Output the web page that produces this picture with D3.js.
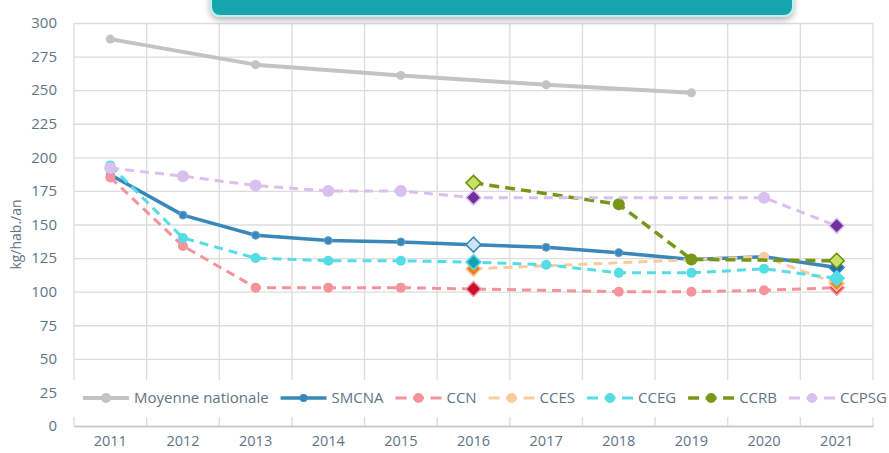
<!DOCTYPE html>
<html>
<head>
<meta charset="utf-8">
<script src="https://cdn.jsdelivr.net/npm/d3@7"></script>
<style>
  body { margin: 0; background: #fff; }
  svg { display: block; font-family: "Open Sans", sans-serif; }
</style>
</head>
<body>
<svg id="chart" width="889" height="453"></svg>
<script>
const years = ["2011", "2012", "2013", "2014", "2015", "2016", "2017", "2018", "2019", "2020", "2021"];
const yTicks = [0, 25, 50, 75, 100, 125, 150, 175, 200, 225, 250, 275, 300];

// null = no point in that year (line joins the neighbours)
const moyenne = [288, null, 269, null, 261, null, 254, null, 248, null, null];
const smcna   = [187, 157, 142, 138, 137, 135, 133, 129, 124, 126, 118];
const ccn     = [185, 134, 103, 103, 103, 102, null, 100, 100, 101, 103];
const cces    = [null, null, null, null, null, 117, null, null, null, 126, 106];
const cceg    = [194, 140, 125, 123, 123, 122, 120, 114, 114, 117, 110];
const ccrb    = [null, null, null, null, null, 181, null, 165, 124, null, 123];
const ccpsg   = [192, 186, 179, 175, 175, 170, null, null, null, 170, 149];

const series = [
  { name: "Moyenne nationale", values: moyenne, color: "#c3c3c3", width: 4, dash: null, r: 4.5, diamonds: {} },
  { name: "SMCNA", values: smcna, color: "#3a88ba", width: 3.5, dash: null, r: 4, markFill: "#3a88ba",
    diamonds: { "2016": ["#cfe4f1", "#3a88ba"], "2021": ["#1f6db0", "#3a88ba"] } },
  { name: "CCN", values: ccn, color: "#f4939b", width: 3, dash: "9,6", r: 5,
    diamonds: { "2016": ["#c8102e", "#f4939b"], "2021": ["#e0303a", "#f4939b"] } },
  { name: "CCES", values: cces, color: "#f9cca0", width: 3, dash: "9,6", r: 5,
    diamonds: { "2016": ["#f07e1c", "#f9cca0"], "2021": ["#f08a2a", "#f9cca0"] } },
  { name: "CCEG", values: cceg, color: "#55dde6", width: 3, dash: "9,6", r: 5,
    diamonds: { "2016": ["#16a3ad", "#55dde6"], "2021": ["#55dde6", "#55dde6"] } },
  { name: "CCRB", values: ccrb, color: "#789719", width: 3.5, dash: "10,6", r: 6,
    diamonds: { "2016": ["#c9e262", "#6e8c14"], "2021": ["#c9e262", "#6e8c14"] } },
  { name: "CCPSG", values: ccpsg, color: "#dac0ee", width: 3, dash: "9,6", r: 6,
    diamonds: { "2016": ["#7030a0", "#dac0ee"], "2021": ["#7030a0", "#dac0ee"] } }
];

const svg = d3.select("#chart");
const margin = { left: 74, right: 16, top: 23, bottom: 27 };
const W = 889, H = 453;

const x = d3.scaleBand().domain(years).range([margin.left, W - margin.right]);
const y = d3.scaleLinear().domain([0, 300]).range([H - margin.bottom, margin.top]);

const textColor = "#5f7487";
const gridColor = "#dcdcdc";

// horizontal grid + labels
const yAxis = svg.append("g")
  .attr("transform", `translate(${margin.left},0)`)
  .call(d3.axisLeft(y).tickValues(yTicks).tickSize(-(W - margin.left - margin.right)).tickPadding(17));
yAxis.select(".domain").remove();
yAxis.selectAll(".tick line").attr("stroke", gridColor).attr("stroke-width", 1.3);
yAxis.selectAll(".tick text").attr("fill", textColor).attr("font-size", 15).attr("font-family", "Open Sans");

// vertical grid at band edges
const edges = years.map(d => x(d)).concat([x.range()[1]]);
svg.append("g").selectAll("line").data(edges).join("line")
  .attr("x1", d => d).attr("x2", d => d)
  .attr("y1", y(300)).attr("y2", y(0))
  .attr("stroke", gridColor).attr("stroke-width", 1.3);

// x labels
const xAxis = svg.append("g")
  .attr("transform", `translate(0,${y(0)})`)
  .call(d3.axisBottom(x).tickSize(0).tickPadding(10));
xAxis.select(".domain").attr("stroke", "#c6c6c6").attr("stroke-width", 1.5);
xAxis.selectAll(".tick text").attr("fill", textColor).attr("font-size", 14.5).attr("font-family", "Open Sans");

// y title
svg.append("text")
  .attr("transform", `translate(21,${(y(0) + y(300)) / 2 + 10}) rotate(-90)`)
  .attr("text-anchor", "middle")
  .attr("fill", textColor)
  .attr("font-size", 14)
  .text("kg/hab./an");

// lines
const line = d3.line()
  .x(d => x(d.year) + x.bandwidth() / 2)
  .y(d => y(d.value));

const diamond = (cx, cy, s) => `M${cx},${cy - s}L${cx + s},${cy}L${cx},${cy + s}L${cx - s},${cy}Z`;

series.forEach(s => {
  const pts = years.map((yr, i) => ({ year: yr, value: s.values[i] })).filter(d => d.value != null);
  const g = svg.append("g");
  g.append("path")
    .datum(pts)
    .attr("d", line)
    .attr("fill", "none")
    .attr("stroke", s.color)
    .attr("stroke-width", s.width)
    .attr("stroke-dasharray", s.dash)
    .attr("stroke-linejoin", "round");
  g.selectAll("circle").data(pts.filter(d => !s.diamonds[d.year])).join("circle")
    .attr("cx", d => x(d.year) + x.bandwidth() / 2)
    .attr("cy", d => y(d.value))
    .attr("r", s.r)
    .attr("fill", s.markFill || s.color)
    .attr("stroke", s.name === "SMCNA" ? "#6aa7d0" : "none")
    .attr("stroke-width", 1);
  s.pts = pts;
});

// diamonds on top
series.forEach(s => {
  svg.append("g").selectAll("path").data(s.pts.filter(d => s.diamonds[d.year])).join("path")
    .attr("d", d => diamond(x(d.year) + x.bandwidth() / 2, y(d.value), 7.5))
    .attr("fill", d => s.diamonds[d.year][0])
    .attr("stroke", d => s.diamonds[d.year][1])
    .attr("stroke-width", 1.5);
});

// legend
const legY = 398;
const legend = svg.append("g");
legend.append("rect")
  .attr("x", margin.left - 2).attr("y", 380)
  .attr("width", W - margin.left).attr("height", 37)
  .attr("fill", "#fff");

const symW = 46, symGap = 5;
const items = legend.selectAll("g.item").data(series).join("g").attr("class", "item");
items.append("text")
  .attr("x", symW + symGap)
  .attr("y", legY)
  .attr("dy", "0.35em")
  .attr("fill", textColor)
  .attr("font-size", 15)
  .text(d => d.name);
const widths = items.select("text").nodes().map(n => n.getComputedTextLength());
const legStart = 83, legEnd = 887;
const used = d3.sum(widths) + series.length * (symW + symGap);
const gap = (legEnd - legStart - used) / (series.length - 1);
let cursor = legStart;
items.each(function (d, i) {
  d3.select(this).attr("transform", `translate(${cursor},0)`);
  cursor += symW + symGap + widths[i] + gap;
});
items.append("line")
  .attr("x1", 0).attr("x2", symW)
  .attr("y1", legY).attr("y2", legY)
  .attr("stroke", d => d.color)
  .attr("stroke-width", d => d.width)
  .attr("stroke-dasharray", d => d.dash ? "11,6.5" : null);
items.append("circle")
  .attr("cx", symW / 2).attr("cy", legY)
  .attr("r", d => d.name === "SMCNA" ? 4 : 5)
  .attr("fill", d => d.markFill || d.color);

// title box (mostly above the frame)
const defs = svg.append("defs");
const f = defs.append("filter").attr("id", "shadow").attr("x", "-10%").attr("y", "-50%").attr("width", "120%").attr("height", "250%");
f.append("feDropShadow").attr("dx", 0).attr("dy", 3).attr("stdDeviation", 3).attr("flood-color", "#000").attr("flood-opacity", 0.3);
svg.append("rect")
  .attr("x", 211).attr("y", -20)
  .attr("width", 582).attr("height", 36)
  .attr("rx", 9)
  .attr("fill", "#16a5ad")
  .attr("stroke", "#b8f2f2")
  .attr("stroke-width", 2)
  .attr("filter", "url(#shadow)");
</script>
</body>
</html>
